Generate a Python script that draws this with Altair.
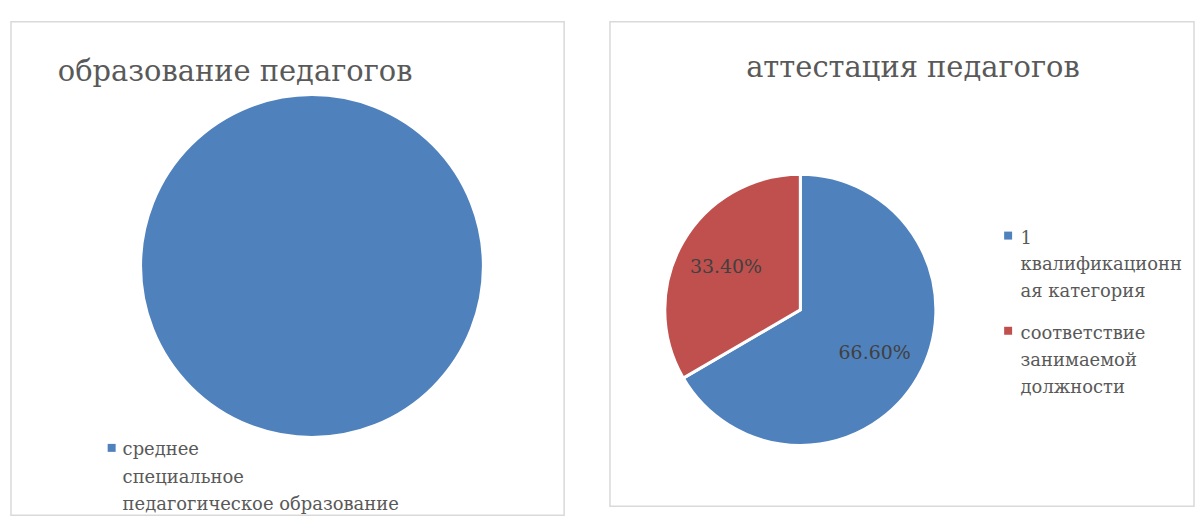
import altair as alt
import pandas as pd

# ---- data ----
edu_categories = ["\u00a0среднее\nспециальное\nпедагогическое образование"]
edu_values = [100]

att_categories = ["1\nквалификационн\nая категория", "соответствие\nзанимаемой\nдолжности"]
att_values = [66.6, 33.4]
att_labels = ["66.60%", "33.40%"]

titles = ["образование педагогов", "аттестация педагогов"]

edu_colors = ["#4F81BD"]
att_colors = ["#4F81BD", "#C0504D"]

FONT = "DejaVu Serif"
TITLE_SIZE = 29
LEGEND_SIZE = 18
LABEL_SIZE = 19

edu_df = pd.DataFrame({"cat": edu_categories, "value": edu_values})
att_df = pd.DataFrame({"cat": att_categories, "value": att_values, "label": att_labels})

# ---- left panel ----
edu_color = alt.Color("cat:N", scale=alt.Scale(domain=edu_categories, range=edu_colors), legend=None)

edu_base = alt.Chart(edu_df)
edu_pie = edu_base.mark_arc(outerRadius=172, stroke="white", strokeWidth=3).encode(
    theta=alt.Theta("value:Q", stack=True),
    color=edu_color,
    x=alt.value(302), y=alt.value(245),
)
edu_title = alt.Chart(alt.Data(values=[{"t": titles[0]}])).mark_text(
    align="left", baseline="alphabetic", font=FONT, fontSize=TITLE_SIZE, color="#595959"
).encode(text="t:N", x=alt.value(47), y=alt.value(59))
edu_sq = edu_base.mark_square(size=64, opacity=1).encode(
    color=edu_color, x=alt.value(101), y=alt.value(427.5)
)
edu_txt = edu_base.mark_text(
    align="left", baseline="alphabetic", font=FONT, fontSize=LEGEND_SIZE, color="#595959",
    lineBreak="\n", lineHeight=27.5
).encode(text="cat:N", x=alt.value(112), y=alt.value(435))

left = alt.layer(edu_pie, edu_title, edu_sq, edu_txt).properties(width=555, height=495)

# ---- right panel ----
att_color = alt.Color("cat:N", scale=alt.Scale(domain=att_categories, range=att_colors), legend=None)
leg_y = alt.Y("cat:N", scale=alt.Scale(domain=att_categories, range=[214.5, 310], padding=0), axis=None)
slice_order = alt.Order("value:Q", sort="descending")

att_base = alt.Chart(att_df)
att_pie = att_base.mark_arc(outerRadius=136, stroke="white", strokeWidth=3).encode(
    theta=alt.Theta("value:Q", stack=True),
    color=att_color,
    order=slice_order,
    x=alt.value(191), y=alt.value(289),
)
att_lbl = att_base.mark_text(
    radius=86, font=FONT, fontSize=LABEL_SIZE, color="#404040", align="center", baseline="middle"
).encode(
    theta=alt.Theta("value:Q", stack=True),
    order=slice_order,
    text="label:N",
    x=alt.value(191), y=alt.value(289),
)
att_title = alt.Chart(alt.Data(values=[{"t": titles[1]}])).mark_text(
    align="center", baseline="alphabetic", font=FONT, fontSize=TITLE_SIZE, color="#595959"
).encode(text="t:N", x=alt.value(304), y=alt.value(55))
att_sq = att_base.mark_square(size=64, opacity=1).encode(
    color=att_color, x=alt.value(399.5), y=leg_y
)
att_txt = att_base.mark_text(
    align="left", baseline="alphabetic", font=FONT, fontSize=LEGEND_SIZE, color="#595959",
    lineBreak="\n", lineHeight=27, dy=8
).encode(text="cat:N", x=alt.value(412), y=leg_y)

right = alt.layer(att_pie, att_lbl, att_title, att_sq, att_txt).properties(
    width=586, height=486,
    title=alt.Title(" ", fontSize=1, offset=3),
)

chart = alt.hconcat(left, right, spacing=44).resolve_scale(
    color="independent", y="independent"
).properties(
    padding={"left": 2, "top": 8, "right": 0, "bottom": 0}
).configure_view(stroke="#d9d9d9", strokeWidth=1.5)

chart.save("out.html", embed_options={"renderer": "svg", "actions": False})
